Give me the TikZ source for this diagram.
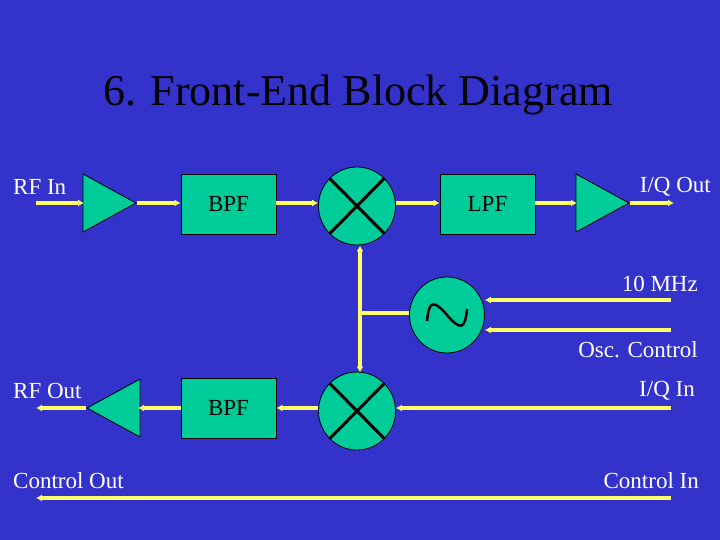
\documentclass[tikz,border=0pt]{standalone}
\usepackage{fontspec}
\setmainfont{Liberation Serif}
\usetikzlibrary{shapes.geometric,arrows.meta}
\definecolor{bg}{RGB}{51,51,204}
\definecolor{teal}{RGB}{0,204,153}
\definecolor{yl}{RGB}{255,255,102}
\begin{document}
\begin{tikzpicture}[x=1pt,y=-1pt,
  blk/.style={draw=black,fill=teal,line width=0.8pt,minimum width=95pt,minimum height=60pt,inner sep=0pt,font=\fontsize{23}{26}\selectfont},
  mix/.style={draw=black,fill=teal,ellipse,line width=0.8pt,minimum width=77pt,minimum height=78pt,inner sep=0pt},
  amp/.style={draw=black,fill=teal,isosceles triangle,isosceles triangle stretches,line width=0.8pt,minimum width=58pt,minimum height=53pt,inner sep=0pt},
  wire/.style={draw=yl,line width=3.5pt,-{Latex[length=6pt,width=7pt]}},
  lbl/.style={text=white,font=\fontsize{23}{26}\selectfont,inner sep=0pt}]
\fill[bg] (0,0) rectangle (720,540);
\useasboundingbox (0,0) rectangle (720,540);
\node[text=black,font=\fontsize{44}{50}\selectfont] (title) at (358,95) {6. Front-End Block Diagram};
% top row
\coordinate (rfin) at (36,203);
\node[amp,anchor=apex] (a1) at (137,203) {};
\node[blk] (bpf1) at (228.5,204) {BPF};
\node[mix] (m1) at (357,206) {};
\node[blk] (lpf) at (487.5,204) {LPF};
\node[amp,anchor=apex] (a2) at (630,203) {};
\coordinate (iqout) at (674,203);
\coordinate (a1b) at (84,203);
\coordinate (a2b) at (577,203);
\draw[wire] (rfin) -- (a1b);
\draw[wire] (a1.apex) -- (bpf1.west|-a1.apex);
\draw[wire] (bpf1.east|-rfin) -- (m1.west|-rfin);
\draw[wire] (m1.east|-rfin) -- (lpf.west|-rfin);
\draw[wire] (lpf.east|-rfin) -- (a2b);
\draw[wire] (a2.apex) -- (iqout);
\draw[line width=3pt] (m1.north west) -- (m1.south east) (m1.north east) -- (m1.south west);
% osc
\node[mix,minimum width=75pt,minimum height=76pt] (osc) at (447,315) {};
\draw[line width=2.5pt] (osc.center)++(-20,6) .. controls +(2,-20) and +(-14,-16) .. (osc.center) .. controls +(14,16) and +(-2,20) .. ++(20,-6);
\coordinate (mhz) at (671,300);
\coordinate (oc) at (671,330);
\draw[wire] (mhz) -- (mhz-|osc.east);
\draw[wire] (oc) -- (oc-|osc.east);
% bottom row
\node[mix] (m2) at (357,411) {};
\draw[line width=3pt] (m2.north west) -- (m2.south east) (m2.north east) -- (m2.south west);
\node[blk] (bpf2) at (228.5,408) {BPF};
\node[amp,shape border rotate=180,anchor=apex] (a3) at (86,408) {};
\coordinate (a3b) at (138,408);
\coordinate (iqin) at (671,408);
\coordinate (rfout) at (36,408);
\draw[wire] (iqin) -- (m2.east|-iqin);
\draw[wire] (m2.west|-iqin) -- (bpf2.east|-iqin);
\draw[wire] (bpf2.west|-iqin) -- (a3b);
\draw[wire] (a3.apex) -- (rfout);
% vertical LO
\coordinate (br) at (360,313);
\coordinate (lotop) at (360,245.5);
\coordinate (lobot) at (360,372.5);
\draw[draw=yl,line width=3.5pt,{Latex[length=6pt,width=7pt]}-{Latex[length=6pt,width=7pt]}] (lotop) -- (lobot);
\draw[draw=yl,line width=3.5pt] (br) -- (br-|osc.west);
% control
\coordinate (cin) at (671,498);
\coordinate (cout) at (36,498);
\draw[wire] (cin) -- (cout);
% labels
\node[lbl,anchor=west] at (13,187) {RF In};
\node[lbl,anchor=east] at (711,187) {I/Q Out};
\node[lbl,anchor=east] at (698,284) {10 MHz};
\node[lbl,anchor=east] at (698,350) {Osc. Control};
\node[lbl,anchor=west] at (13,391) {RF Out};
\node[lbl,anchor=east] at (695,391) {I/Q In};
\node[lbl,anchor=west] at (13,481) {Control Out};
\node[lbl,anchor=east] at (699,481) {Control In};
\end{tikzpicture}
\end{document}
